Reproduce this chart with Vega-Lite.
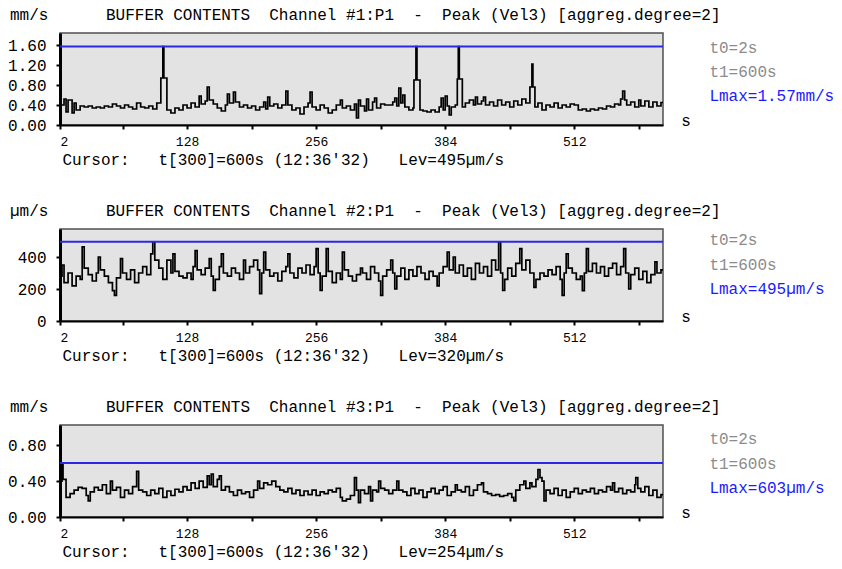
{
  "$schema": "https://vega.github.io/schema/vega-lite/v6.json",
  "background": "white",
  "padding": {"left": 6, "top": 6, "right": 2, "bottom": 2},
  "spacing": 34,
  "config": {
    "font": "Liberation Mono",
    "view": {"fill": "#e3e3e3", "stroke": "#505050", "strokeWidth": 1.5},
    "title": {"font": "Liberation Mono", "fontSize": 16, "fontWeight": "normal", "color": "black", "anchor": "start", "frame": "group", "dx": -50, "offset": 10},
    "axis": {"grid": false, "domainColor": "black", "domainWidth": 2, "tickColor": "black", "tickSize": 4, "tickWidth": 2, "labelFont": "Liberation Mono", "labelFontSize": 15, "labelColor": "black", "labelOverlap": false, "labelBound": false, "titleFont": "Liberation Mono", "titleFontSize": 16, "titleFontWeight": "normal", "titleColor": "black"},
    "axisY": {"labelOverlap": false, "labelFontSize": 16, "labelPadding": 10, "domainWidth": 3, "tickCount": 12},
    "axisX": {"labelFontSize": 13, "labelPadding": 6, "tickCount": 20},
    "text": {"font": "Liberation Mono", "fontSize": 16}
  },
  "datasets": {
    "ch1": [
      {"t":2,"v":0.40},{"t":6,"v":0.52},{"t":8,"v":0.26},{"t":10,"v":0.50},{"t":14,"v":0.24},{"t":16,"v":0.44},{"t":18,"v":0.30},{"t":22,"v":0.38},{"t":26,"v":0.36},{"t":30,"v":0.38},
      {"t":34,"v":0.34},{"t":38,"v":0.36},{"t":42,"v":0.34},{"t":46,"v":0.38},{"t":50,"v":0.36},{"t":54,"v":0.42},{"t":58,"v":0.38},{"t":62,"v":0.34},{"t":66,"v":0.40},{"t":70,"v":0.36},
      {"t":74,"v":0.32},{"t":78,"v":0.44},{"t":82,"v":0.36},{"t":86,"v":0.34},{"t":90,"v":0.38},{"t":94,"v":0.32},{"t":98,"v":0.44},{"t":102,"v":0.94},{"t":104,"v":1.57},{"t":105,"v":0.94},
      {"t":108,"v":0.30},{"t":112,"v":0.24},{"t":116,"v":0.34},{"t":120,"v":0.30},{"t":124,"v":0.40},{"t":128,"v":0.34},{"t":132,"v":0.44},{"t":136,"v":0.36},{"t":140,"v":0.58},{"t":142,"v":0.42},
      {"t":146,"v":0.48},{"t":148,"v":0.76},{"t":150,"v":0.50},{"t":154,"v":0.42},{"t":158,"v":0.34},{"t":162,"v":0.28},{"t":166,"v":0.40},{"t":168,"v":0.62},{"t":170,"v":0.44},{"t":174,"v":0.66},
      {"t":176,"v":0.46},{"t":180,"v":0.36},{"t":184,"v":0.40},{"t":188,"v":0.34},{"t":192,"v":0.38},{"t":196,"v":0.30},{"t":200,"v":0.36},{"t":204,"v":0.46},{"t":206,"v":0.32},{"t":208,"v":0.56},
      {"t":210,"v":0.38},{"t":214,"v":0.42},{"t":218,"v":0.34},{"t":222,"v":0.40},{"t":226,"v":0.68},{"t":228,"v":0.40},{"t":232,"v":0.30},{"t":236,"v":0.34},{"t":240,"v":0.22},{"t":244,"v":0.36},
      {"t":248,"v":0.44},{"t":250,"v":0.66},{"t":252,"v":0.36},{"t":256,"v":0.30},{"t":260,"v":0.40},{"t":264,"v":0.34},{"t":268,"v":0.24},{"t":272,"v":0.30},{"t":276,"v":0.40},{"t":280,"v":0.50},
      {"t":282,"v":0.34},{"t":286,"v":0.38},{"t":290,"v":0.30},{"t":294,"v":0.42},{"t":296,"v":0.14},{"t":298,"v":0.50},{"t":300,"v":0.38},{"t":304,"v":0.28},{"t":306,"v":0.52},{"t":308,"v":0.30},
      {"t":312,"v":0.46},{"t":314,"v":0.54},{"t":316,"v":0.34},{"t":320,"v":0.42},{"t":324,"v":0.40},{"t":328,"v":0.40},{"t":332,"v":0.46},{"t":334,"v":0.54},{"t":336,"v":0.38},{"t":338,"v":0.74},
      {"t":340,"v":0.44},{"t":342,"v":0.60},{"t":344,"v":0.36},{"t":348,"v":0.30},{"t":352,"v":0.34},{"t":353,"v":0.90},{"t":355,"v":1.57},{"t":356,"v":0.90},{"t":359,"v":0.30},{"t":362,"v":0.28},
      {"t":366,"v":0.26},{"t":370,"v":0.30},{"t":374,"v":0.26},{"t":378,"v":0.36},{"t":380,"v":0.54},{"t":382,"v":0.30},{"t":384,"v":0.58},{"t":386,"v":0.38},{"t":388,"v":0.20},{"t":390,"v":0.36},
      {"t":394,"v":0.40},{"t":396,"v":0.92},{"t":397,"v":1.57},{"t":398,"v":0.92},{"t":401,"v":0.36},{"t":404,"v":0.44},{"t":408,"v":0.50},{"t":412,"v":0.40},{"t":414,"v":0.56},{"t":416,"v":0.42},
      {"t":420,"v":0.48},{"t":422,"v":0.56},{"t":424,"v":0.40},{"t":428,"v":0.46},{"t":432,"v":0.38},{"t":436,"v":0.50},{"t":440,"v":0.40},{"t":444,"v":0.46},{"t":448,"v":0.36},{"t":452,"v":0.48},
      {"t":456,"v":0.40},{"t":460,"v":0.52},{"t":464,"v":0.44},{"t":468,"v":0.76},{"t":470,"v":1.22},{"t":471,"v":0.76},{"t":473,"v":0.36},{"t":476,"v":0.44},{"t":480,"v":0.30},{"t":484,"v":0.40},
      {"t":488,"v":0.36},{"t":492,"v":0.44},{"t":496,"v":0.34},{"t":500,"v":0.40},{"t":504,"v":0.36},{"t":508,"v":0.42},{"t":512,"v":0.40},{"t":516,"v":0.30},{"t":520,"v":0.32},{"t":524,"v":0.28},
      {"t":528,"v":0.32},{"t":532,"v":0.30},{"t":536,"v":0.34},{"t":540,"v":0.32},{"t":544,"v":0.38},{"t":548,"v":0.36},{"t":552,"v":0.42},{"t":556,"v":0.40},{"t":558,"v":0.52},{"t":560,"v":0.68},
      {"t":562,"v":0.50},{"t":564,"v":0.40},{"t":568,"v":0.46},{"t":572,"v":0.36},{"t":576,"v":0.50},{"t":578,"v":0.38},{"t":582,"v":0.48},{"t":586,"v":0.36},{"t":590,"v":0.46},{"t":594,"v":0.38},
      {"t":598,"v":0.45},{"t":600,"v":0.45}
    ],
    "ch2": [
      {"t":2,"v":280},{"t":4,"v":350},{"t":6,"v":240},{"t":10,"v":300},{"t":14,"v":220},{"t":18,"v":280},{"t":22,"v":260},{"t":24,"v":463},{"t":26,"v":330},{"t":30,"v":290},
      {"t":34,"v":250},{"t":38,"v":300},{"t":40,"v":400},{"t":42,"v":320},{"t":46,"v":280},{"t":50,"v":240},{"t":54,"v":190},{"t":56,"v":160},{"t":58,"v":270},{"t":62,"v":390},
      {"t":64,"v":300},{"t":68,"v":260},{"t":72,"v":320},{"t":76,"v":240},{"t":80,"v":300},{"t":84,"v":340},{"t":88,"v":290},{"t":92,"v":420},{"t":94,"v":495},{"t":96,"v":380},
      {"t":100,"v":330},{"t":104,"v":260},{"t":108,"v":380},{"t":112,"v":300},{"t":114,"v":420},{"t":116,"v":310},{"t":120,"v":280},{"t":124,"v":270},{"t":128,"v":300},{"t":132,"v":260},
      {"t":134,"v":340},{"t":136,"v":440},{"t":138,"v":320},{"t":142,"v":290},{"t":146,"v":330},{"t":150,"v":390},{"t":152,"v":280},{"t":154,"v":192},{"t":156,"v":260},{"t":160,"v":340},
      {"t":162,"v":420},{"t":164,"v":300},{"t":168,"v":280},{"t":172,"v":330},{"t":176,"v":300},{"t":180,"v":260},{"t":184,"v":380},{"t":186,"v":300},{"t":190,"v":340},{"t":194,"v":380},
      {"t":198,"v":320},{"t":200,"v":171},{"t":202,"v":300},{"t":204,"v":431},{"t":206,"v":320},{"t":210,"v":280},{"t":214,"v":300},{"t":218,"v":250},{"t":222,"v":310},{"t":226,"v":340},
      {"t":228,"v":420},{"t":230,"v":300},{"t":234,"v":270},{"t":238,"v":330},{"t":242,"v":300},{"t":246,"v":350},{"t":250,"v":290},{"t":254,"v":340},{"t":256,"v":452},{"t":258,"v":300},
      {"t":260,"v":192},{"t":262,"v":280},{"t":266,"v":452},{"t":268,"v":310},{"t":272,"v":240},{"t":276,"v":300},{"t":280,"v":260},{"t":282,"v":431},{"t":284,"v":320},{"t":288,"v":280},
      {"t":292,"v":250},{"t":296,"v":290},{"t":300,"v":330},{"t":302,"v":300},{"t":306,"v":260},{"t":310,"v":340},{"t":314,"v":300},{"t":318,"v":250},{"t":320,"v":160},{"t":322,"v":280},
      {"t":326,"v":320},{"t":330,"v":380},{"t":332,"v":300},{"t":334,"v":200},{"t":336,"v":280},{"t":340,"v":330},{"t":344,"v":260},{"t":348,"v":320},{"t":352,"v":280},{"t":356,"v":340},
      {"t":360,"v":300},{"t":364,"v":260},{"t":368,"v":310},{"t":372,"v":280},{"t":376,"v":220},{"t":378,"v":300},{"t":382,"v":340},{"t":386,"v":431},{"t":388,"v":320},{"t":392,"v":400},
      {"t":394,"v":300},{"t":398,"v":350},{"t":402,"v":280},{"t":406,"v":330},{"t":410,"v":260},{"t":414,"v":360},{"t":418,"v":300},{"t":422,"v":340},{"t":426,"v":280},{"t":430,"v":380},
      {"t":434,"v":320},{"t":437,"v":495},{"t":439,"v":300},{"t":441,"v":192},{"t":443,"v":260},{"t":446,"v":330},{"t":450,"v":280},{"t":454,"v":360},{"t":458,"v":452},{"t":460,"v":320},
      {"t":464,"v":380},{"t":468,"v":300},{"t":472,"v":210},{"t":474,"v":260},{"t":478,"v":300},{"t":482,"v":280},{"t":486,"v":320},{"t":490,"v":290},{"t":494,"v":340},{"t":498,"v":260},
      {"t":500,"v":160},{"t":502,"v":300},{"t":504,"v":420},{"t":506,"v":330},{"t":510,"v":300},{"t":514,"v":260},{"t":518,"v":280},{"t":520,"v":190},{"t":522,"v":300},{"t":524,"v":452},
      {"t":526,"v":310},{"t":530,"v":360},{"t":534,"v":300},{"t":538,"v":340},{"t":542,"v":280},{"t":546,"v":330},{"t":550,"v":360},{"t":554,"v":290},{"t":558,"v":340},{"t":561,"v":452},
      {"t":563,"v":300},{"t":566,"v":200},{"t":568,"v":290},{"t":572,"v":330},{"t":576,"v":260},{"t":580,"v":310},{"t":584,"v":240},{"t":588,"v":290},{"t":592,"v":369},{"t":594,"v":300},
      {"t":598,"v":320},{"t":600,"v":320}
    ],
    "ch3": [
      {"t":2,"v":0.40},{"t":4,"v":0.60},{"t":5,"v":0.42},{"t":8,"v":0.22},{"t":12,"v":0.26},{"t":16,"v":0.30},{"t":20,"v":0.33},{"t":24,"v":0.32},{"t":28,"v":0.24},{"t":30,"v":0.18},
      {"t":32,"v":0.28},{"t":36,"v":0.33},{"t":40,"v":0.30},{"t":44,"v":0.36},{"t":48,"v":0.26},{"t":52,"v":0.40},{"t":54,"v":0.30},{"t":58,"v":0.33},{"t":62,"v":0.22},{"t":66,"v":0.30},
      {"t":70,"v":0.26},{"t":74,"v":0.34},{"t":78,"v":0.51},{"t":80,"v":0.30},{"t":84,"v":0.28},{"t":88,"v":0.24},{"t":92,"v":0.30},{"t":96,"v":0.26},{"t":100,"v":0.32},{"t":104,"v":0.22},
      {"t":108,"v":0.29},{"t":112,"v":0.24},{"t":116,"v":0.31},{"t":120,"v":0.28},{"t":124,"v":0.34},{"t":128,"v":0.30},{"t":132,"v":0.38},{"t":136,"v":0.32},{"t":140,"v":0.40},{"t":144,"v":0.33},
      {"t":148,"v":0.46},{"t":150,"v":0.36},{"t":152,"v":0.48},{"t":154,"v":0.34},{"t":158,"v":0.42},{"t":160,"v":0.46},{"t":162,"v":0.30},{"t":166,"v":0.34},{"t":170,"v":0.28},{"t":174,"v":0.24},
      {"t":178,"v":0.30},{"t":182,"v":0.26},{"t":186,"v":0.28},{"t":190,"v":0.22},{"t":194,"v":0.30},{"t":198,"v":0.40},{"t":200,"v":0.32},{"t":204,"v":0.38},{"t":208,"v":0.36},{"t":212,"v":0.40},
      {"t":216,"v":0.34},{"t":220,"v":0.30},{"t":224,"v":0.28},{"t":228,"v":0.32},{"t":232,"v":0.26},{"t":236,"v":0.30},{"t":240,"v":0.24},{"t":244,"v":0.29},{"t":248,"v":0.25},{"t":252,"v":0.30},
      {"t":256,"v":0.24},{"t":260,"v":0.28},{"t":264,"v":0.26},{"t":268,"v":0.30},{"t":272,"v":0.28},{"t":276,"v":0.32},{"t":280,"v":0.22},{"t":282,"v":0.18},{"t":286,"v":0.20},{"t":290,"v":0.24},
      {"t":294,"v":0.44},{"t":296,"v":0.30},{"t":298,"v":0.16},{"t":300,"v":0.30},{"t":304,"v":0.26},{"t":308,"v":0.34},{"t":310,"v":0.18},{"t":312,"v":0.30},{"t":316,"v":0.28},{"t":318,"v":0.40},
      {"t":320,"v":0.32},{"t":324,"v":0.30},{"t":328,"v":0.26},{"t":332,"v":0.30},{"t":336,"v":0.40},{"t":338,"v":0.30},{"t":342,"v":0.28},{"t":346,"v":0.24},{"t":350,"v":0.32},{"t":354,"v":0.26},
      {"t":358,"v":0.30},{"t":362,"v":0.22},{"t":366,"v":0.28},{"t":370,"v":0.32},{"t":374,"v":0.26},{"t":378,"v":0.30},{"t":382,"v":0.34},{"t":386,"v":0.24},{"t":390,"v":0.28},{"t":394,"v":0.36},
      {"t":396,"v":0.30},{"t":400,"v":0.28},{"t":404,"v":0.34},{"t":408,"v":0.24},{"t":412,"v":0.30},{"t":416,"v":0.36},{"t":420,"v":0.38},{"t":422,"v":0.28},{"t":426,"v":0.26},{"t":430,"v":0.24},
      {"t":434,"v":0.25},{"t":438,"v":0.23},{"t":442,"v":0.24},{"t":446,"v":0.26},{"t":450,"v":0.22},{"t":452,"v":0.18},{"t":454,"v":0.30},{"t":458,"v":0.36},{"t":462,"v":0.40},{"t":464,"v":0.32},
      {"t":468,"v":0.38},{"t":470,"v":0.34},{"t":474,"v":0.42},{"t":476,"v":0.53},{"t":478,"v":0.44},{"t":480,"v":0.40},{"t":482,"v":0.18},{"t":484,"v":0.30},{"t":488,"v":0.26},{"t":492,"v":0.32},
      {"t":496,"v":0.24},{"t":500,"v":0.30},{"t":504,"v":0.22},{"t":508,"v":0.28},{"t":512,"v":0.32},{"t":516,"v":0.26},{"t":520,"v":0.30},{"t":524,"v":0.28},{"t":528,"v":0.32},{"t":532,"v":0.26},
      {"t":536,"v":0.30},{"t":540,"v":0.28},{"t":544,"v":0.34},{"t":548,"v":0.30},{"t":550,"v":0.38},{"t":552,"v":0.28},{"t":556,"v":0.32},{"t":560,"v":0.26},{"t":564,"v":0.30},{"t":568,"v":0.28},
      {"t":572,"v":0.36},{"t":573,"v":0.44},{"t":575,"v":0.32},{"t":578,"v":0.28},{"t":582,"v":0.34},{"t":586,"v":0.24},{"t":590,"v":0.30},{"t":594,"v":0.22},{"t":598,"v":0.25},{"t":600,"v":0.25}
    ]
  },
  "vconcat": [
    {
      "width": 603, "height": 92,
      "title": {"text": "mm/s\u00a0\u00a0\u00a0\u00a0\u00a0\u00a0BUFFER CONTENTS\u00a0\u00a0Channel #1:P1\u00a0\u00a0-\u00a0\u00a0Peak (Vel3) [aggreg.degree=2]"},
      "layer": [
        {"data": {"name": "ch1"}, "mark": {"type": "line", "interpolate": "step-after", "color": "black", "strokeWidth": 1.7},
         "encoding": {
           "x": {"field": "t", "type": "quantitative", "scale": {"domain": [2, 600], "nice": false, "zero": false},
                 "axis": {"values": [2,64,128,192,256,320,384,448,512,576], "tickCount": 20, "labelExpr": "indexof([2,128,256,384,512], datum.value) >= 0 ? datum.label : ''", "title": "Cursor:\u00a0\u00a0\u00a0t[300]=600s (12:36'32)\u00a0\u00a0\u00a0Lev=495µm/s", "titleX": 2, "titleY": 34, "titleAlign": "left", "titleBaseline": "middle", "titleAnchor": "start"}},
           "y": {"field": "v", "type": "quantitative", "scale": {"domain": [0, 1.84], "nice": false},
                 "axis": {"values": [0, 0.4, 0.8, 1.2, 1.6], "tickCount": 12, "format": ".2f", "labelOverlap": false, "title": null}}
         }},
        {"data": {"values": [{"lmax": 1.57}]}, "mark": {"type": "rule", "color": "#2a2ae6", "strokeWidth": 2},
         "encoding": {"y": {"field": "lmax", "type": "quantitative", "scale": {"domain": [0, 1.84], "nice": false}}}},
        {"data": {"values": [{}]}, "mark": {"type": "text", "text": "s", "align": "left", "baseline": "middle", "dy": -4},
         "encoding": {"x": {"datum": 618, "type": "quantitative", "scale": {"domain": [2, 600], "nice": false, "zero": false}}, "y": {"datum": 0, "type": "quantitative", "scale": {"domain": [0, 1.84], "nice": false}}}},
        {"data": {"values": [{}]}, "mark": {"type": "text", "text": "t0=2s", "align": "left", "baseline": "middle", "color": "#8c8c8c"},
         "encoding": {"x": {"datum": 646, "type": "quantitative", "scale": {"domain": [2, 600], "nice": false, "zero": false}}, "y": {"datum": 1.54, "type": "quantitative", "scale": {"domain": [0, 1.84], "nice": false}}}},
        {"data": {"values": [{}]}, "mark": {"type": "text", "text": "t1=600s", "align": "left", "baseline": "middle", "color": "#8c8c8c"},
         "encoding": {"x": {"datum": 646, "type": "quantitative", "scale": {"domain": [2, 600], "nice": false, "zero": false}}, "y": {"datum": 1.06, "type": "quantitative", "scale": {"domain": [0, 1.84], "nice": false}}}},
        {"data": {"values": [{}]}, "mark": {"type": "text", "text": "Lmax=1.57mm/s", "align": "left", "baseline": "middle", "color": "#1a1aff"},
         "encoding": {"x": {"datum": 646, "type": "quantitative", "scale": {"domain": [2, 600], "nice": false, "zero": false}}, "y": {"datum": 0.58, "type": "quantitative", "scale": {"domain": [0, 1.84], "nice": false}}}}
      ]
    },
    {
      "width": 603, "height": 92,
      "title": {"text": "µm/s\u00a0\u00a0\u00a0\u00a0\u00a0\u00a0BUFFER CONTENTS\u00a0\u00a0Channel #2:P1\u00a0\u00a0-\u00a0\u00a0Peak (Vel3) [aggreg.degree=2]"},
      "layer": [
        {"data": {"name": "ch2"}, "mark": {"type": "line", "interpolate": "step-after", "color": "black", "strokeWidth": 1.7},
         "encoding": {
           "x": {"field": "t", "type": "quantitative", "scale": {"domain": [2, 600], "nice": false, "zero": false},
                 "axis": {"values": [2,64,128,192,256,320,384,448,512,576], "tickCount": 20, "labelExpr": "indexof([2,128,256,384,512], datum.value) >= 0 ? datum.label : ''", "title": "Cursor:\u00a0\u00a0\u00a0t[300]=600s (12:36'32)\u00a0\u00a0\u00a0Lev=320µm/s", "titleX": 2, "titleY": 34, "titleAlign": "left", "titleBaseline": "middle", "titleAnchor": "start"}},
           "y": {"field": "v", "type": "quantitative", "scale": {"domain": [0, 575], "nice": false},
                 "axis": {"values": [0, 200, 400], "tickCount": 12, "format": "d", "labelOverlap": false, "title": null}}
         }},
        {"data": {"values": [{"lmax": 495}]}, "mark": {"type": "rule", "color": "#2a2ae6", "strokeWidth": 2},
         "encoding": {"y": {"field": "lmax", "type": "quantitative", "scale": {"domain": [0, 575], "nice": false}}}},
        {"data": {"values": [{}]}, "mark": {"type": "text", "text": "s", "align": "left", "baseline": "middle", "dy": -4},
         "encoding": {"x": {"datum": 618, "type": "quantitative", "scale": {"domain": [2, 600], "nice": false, "zero": false}}, "y": {"datum": 0, "type": "quantitative", "scale": {"domain": [0, 575], "nice": false}}}},
        {"data": {"values": [{}]}, "mark": {"type": "text", "text": "t0=2s", "align": "left", "baseline": "middle", "color": "#8c8c8c"},
         "encoding": {"x": {"datum": 646, "type": "quantitative", "scale": {"domain": [2, 600], "nice": false, "zero": false}}, "y": {"datum": 506, "type": "quantitative", "scale": {"domain": [0, 575], "nice": false}}}},
        {"data": {"values": [{}]}, "mark": {"type": "text", "text": "t1=600s", "align": "left", "baseline": "middle", "color": "#8c8c8c"},
         "encoding": {"x": {"datum": 646, "type": "quantitative", "scale": {"domain": [2, 600], "nice": false, "zero": false}}, "y": {"datum": 350, "type": "quantitative", "scale": {"domain": [0, 575], "nice": false}}}},
        {"data": {"values": [{}]}, "mark": {"type": "text", "text": "Lmax=495µm/s", "align": "left", "baseline": "middle", "color": "#1a1aff"},
         "encoding": {"x": {"datum": 646, "type": "quantitative", "scale": {"domain": [2, 600], "nice": false, "zero": false}}, "y": {"datum": 200, "type": "quantitative", "scale": {"domain": [0, 575], "nice": false}}}}
      ]
    },
    {
      "width": 603, "height": 92,
      "title": {"text": "mm/s\u00a0\u00a0\u00a0\u00a0\u00a0\u00a0BUFFER CONTENTS\u00a0\u00a0Channel #3:P1\u00a0\u00a0-\u00a0\u00a0Peak (Vel3) [aggreg.degree=2]"},
      "layer": [
        {"data": {"name": "ch3"}, "mark": {"type": "line", "interpolate": "step-after", "color": "black", "strokeWidth": 1.7},
         "encoding": {
           "x": {"field": "t", "type": "quantitative", "scale": {"domain": [2, 600], "nice": false, "zero": false},
                 "axis": {"values": [2,64,128,192,256,320,384,448,512,576], "tickCount": 20, "labelExpr": "indexof([2,128,256,384,512], datum.value) >= 0 ? datum.label : ''", "title": "Cursor:\u00a0\u00a0\u00a0t[300]=600s (12:36'32)\u00a0\u00a0\u00a0Lev=254µm/s", "titleX": 2, "titleY": 34, "titleAlign": "left", "titleBaseline": "middle", "titleAnchor": "start"}},
           "y": {"field": "v", "type": "quantitative", "scale": {"domain": [0, 1.027], "nice": false},
                 "axis": {"values": [0, 0.4, 0.8], "tickCount": 12, "format": ".2f", "labelOverlap": false, "title": null}}
         }},
        {"data": {"values": [{"lmax": 0.603}]}, "mark": {"type": "rule", "color": "#2a2ae6", "strokeWidth": 2},
         "encoding": {"y": {"field": "lmax", "type": "quantitative", "scale": {"domain": [0, 1.027], "nice": false}}}},
        {"data": {"values": [{}]}, "mark": {"type": "text", "text": "s", "align": "left", "baseline": "middle", "dy": -4},
         "encoding": {"x": {"datum": 618, "type": "quantitative", "scale": {"domain": [2, 600], "nice": false, "zero": false}}, "y": {"datum": 0, "type": "quantitative", "scale": {"domain": [0, 1.027], "nice": false}}}},
        {"data": {"values": [{}]}, "mark": {"type": "text", "text": "t0=2s", "align": "left", "baseline": "middle", "color": "#8c8c8c"},
         "encoding": {"x": {"datum": 646, "type": "quantitative", "scale": {"domain": [2, 600], "nice": false, "zero": false}}, "y": {"datum": 0.871, "type": "quantitative", "scale": {"domain": [0, 1.027], "nice": false}}}},
        {"data": {"values": [{}]}, "mark": {"type": "text", "text": "t1=600s", "align": "left", "baseline": "middle", "color": "#8c8c8c"},
         "encoding": {"x": {"datum": 646, "type": "quantitative", "scale": {"domain": [2, 600], "nice": false, "zero": false}}, "y": {"datum": 0.592, "type": "quantitative", "scale": {"domain": [0, 1.027], "nice": false}}}},
        {"data": {"values": [{}]}, "mark": {"type": "text", "text": "Lmax=603µm/s", "align": "left", "baseline": "middle", "color": "#1a1aff"},
         "encoding": {"x": {"datum": 646, "type": "quantitative", "scale": {"domain": [2, 600], "nice": false, "zero": false}}, "y": {"datum": 0.324, "type": "quantitative", "scale": {"domain": [0, 1.027], "nice": false}}}}
      ]
    }
  ]
}
